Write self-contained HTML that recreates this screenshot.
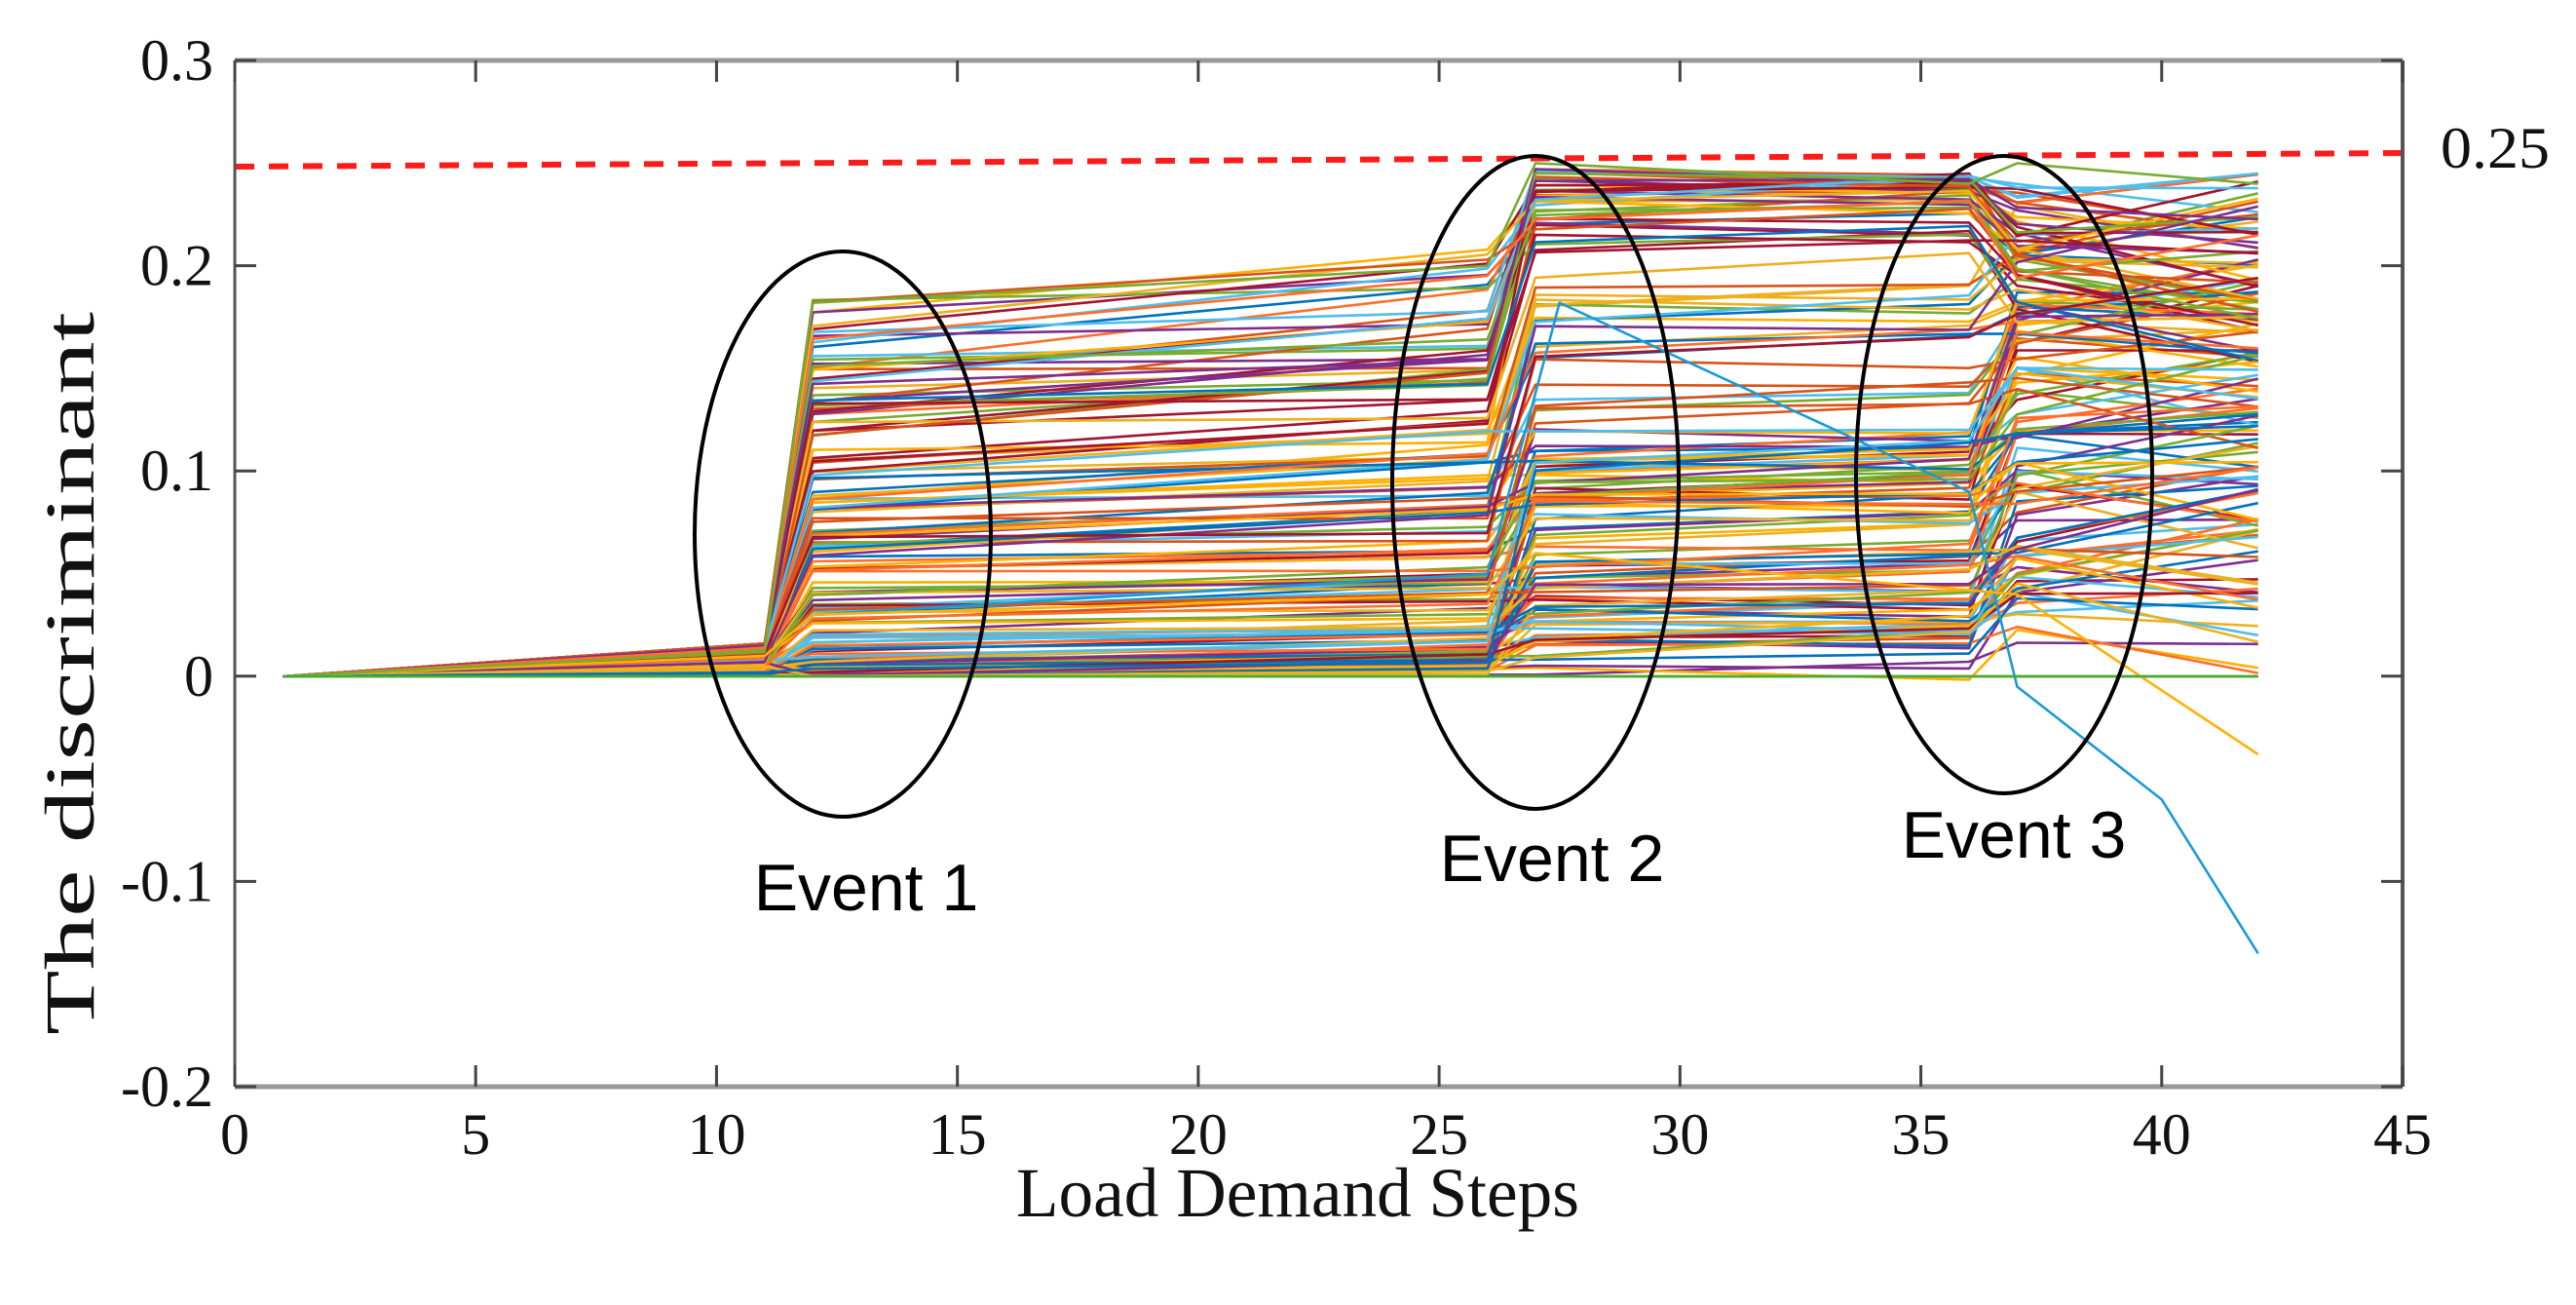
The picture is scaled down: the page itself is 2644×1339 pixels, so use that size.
<!DOCTYPE html>
<html><head><meta charset="utf-8"><style>
html,body{margin:0;padding:0;background:#fff;}
svg{display:block;}
.t{font-family:"Liberation Serif",serif;font-size:60px;fill:#111;}
.e{font-family:"Liberation Sans",sans-serif;font-size:68px;fill:#000;}
</style></head><body>
<svg id="s" width="2644" height="1339" viewBox="0 0 2644 1339" xmlns="http://www.w3.org/2000/svg">
<g id="lines" fill="none" stroke-width="2.6" stroke-linejoin="round"></g>
<line x1="241" y1="171" x2="2466" y2="157" stroke="#ff1a1a" stroke-width="6" stroke-dasharray="20,15"/>
<g stroke="#555" stroke-width="3">
<line x1="241" y1="62" x2="2466" y2="62" stroke="#999" stroke-width="5"/>
<line x1="241" y1="1115" x2="2466" y2="1115" stroke="#999" stroke-width="5"/>
<line x1="241" y1="62" x2="241" y2="1115"/>
<line x1="2466" y1="62" x2="2466" y2="1115" stroke-width="4"/>
</g>
<g id="ticks" stroke="#444" stroke-width="3"></g>
<g id="lbl"></g>
<g fill="none" stroke="#000" stroke-width="4">
<ellipse cx="865" cy="548" rx="152" ry="290"/>
<ellipse cx="1576" cy="495" rx="147" ry="335"/>
<ellipse cx="2057" cy="487" rx="152" ry="327"/>
</g>
<text class="e" x="889" y="934" text-anchor="middle">Event 1</text>
<text class="e" x="1593" y="904" text-anchor="middle">Event 2</text>
<text class="e" x="2067" y="880" text-anchor="middle">Event 3</text>
<text class="t" x="2505" y="172" textLength="112" lengthAdjust="spacingAndGlyphs" style="font-size:60px">0.25</text>
<text class="t" x="1332" y="1248" text-anchor="middle" textLength="578" lengthAdjust="spacingAndGlyphs" style="font-size:72px">Load Demand Steps</text>
<text class="t" transform="translate(96,691) rotate(-90)" text-anchor="middle" textLength="742" lengthAdjust="spacingAndGlyphs" style="font-size:72px">The discriminant</text>
</svg>
<script>
var NS="http://www.w3.org/2000/svg";
function X(v){return 241+v*2225/45;}
function Y(v){return 694-v*2106;}
var tk=document.getElementById("ticks"),lb=document.getElementById("lbl");
function el(p,n,a,t){var e=document.createElementNS(NS,n);for(var k in a)e.setAttribute(k,a[k]);if(t!=null)e.textContent=t;p.appendChild(e);return e;}
for(var i=0;i<=9;i++){var x=X(i*5);
 el(tk,"line",{x1:x,y1:1115,x2:x,y2:1093});el(tk,"line",{x1:x,y1:62,x2:x,y2:84});
 el(lb,"text",{"class":"t",x:x,y:1184,"text-anchor":"middle"},String(i*5));}
var yl=["0.3","0.2","0.1","0","-0.1","-0.2"];
for(var j=0;j<6;j++){var y=62+j*210.6;
 el(tk,"line",{x1:241,y1:y,x2:263,y2:y});el(tk,"line",{x1:2466,y1:y,x2:2444,y2:y});
 el(lb,"text",{"class":"t",x:219,y:y+20,"text-anchor":"end"},yl[j]);}
var seed=7;function r(){seed=(seed*16807)%2147483647;return seed/2147483647;}
var cols=["#D95319","#EDB120","#4DBEEE","#77AC30","#7E2F8E","#0072BD","#A2142F","#FF6E2A","#FFB000"];
var g=document.getElementById("lines");
function poly(pts,c){var s=pts.map(function(p){return X(p[0]).toFixed(1)+","+Y(p[1]).toFixed(1)}).join(" ");el(g,"polyline",{points:s,stroke:c});}
for(var n=0;n<170;n++){
 var b=Math.pow(r(),2.2)*0.185; if(n%23==0)b=0;
 var v11=Math.min(0.016,b*0.08+r()*0.008);
 var v26=b+r()*0.035*(0.3+b/0.18);
 var hi=r();
 var v27=v26+Math.pow(hi,2)*0.1+(b>0.1?0.05+r()*0.05:0);
 if(v27>0.248)v27=0.21+r()*0.038;
 var v36=v27+(r()-0.3)*0.02; if(v36>0.245)v36=0.245-r()*0.01;
 var v37=v36+r()*0.04*(v36<0.2?1:-1)+(v36<0.12&&r()<0.4?0.04:0); if(v37>0.248)v37=0.248;
 var v42=v37+(r()-0.5)*0.06; if(v42>0.245)v42=0.245; if(v42<0)v42=0.005;
 if(b==0){v11=v26=v27=v36=v37=v42=0;}
 poly([[1,0],[11,v11],[12,b],[26,v26],[27,v27],[36,v36],[37,v37],[42,v42]],cols[n%cols.length]);
}
poly([[1,0],[11,0.01],[12,0.03],[26,0.05],[27.5,0.182],[36,0.09],[37,-0.005],[40,-0.06],[42,-0.135]],"#1a9ad6");
poly([[1,0],[11,0.01],[12,0.03],[26,0.04],[27,0.06],[37,0.04],[42,-0.038]],"#FFB000");
poly([[1,0],[11,0.012],[12,0.182],[26,0.2],[27,0.25],[36,0.24],[37,0.25],[42,0.24]],"#77AC30");
poly([[1,0],[42,0]],"#3cae3c");
</script>
</body></html>
